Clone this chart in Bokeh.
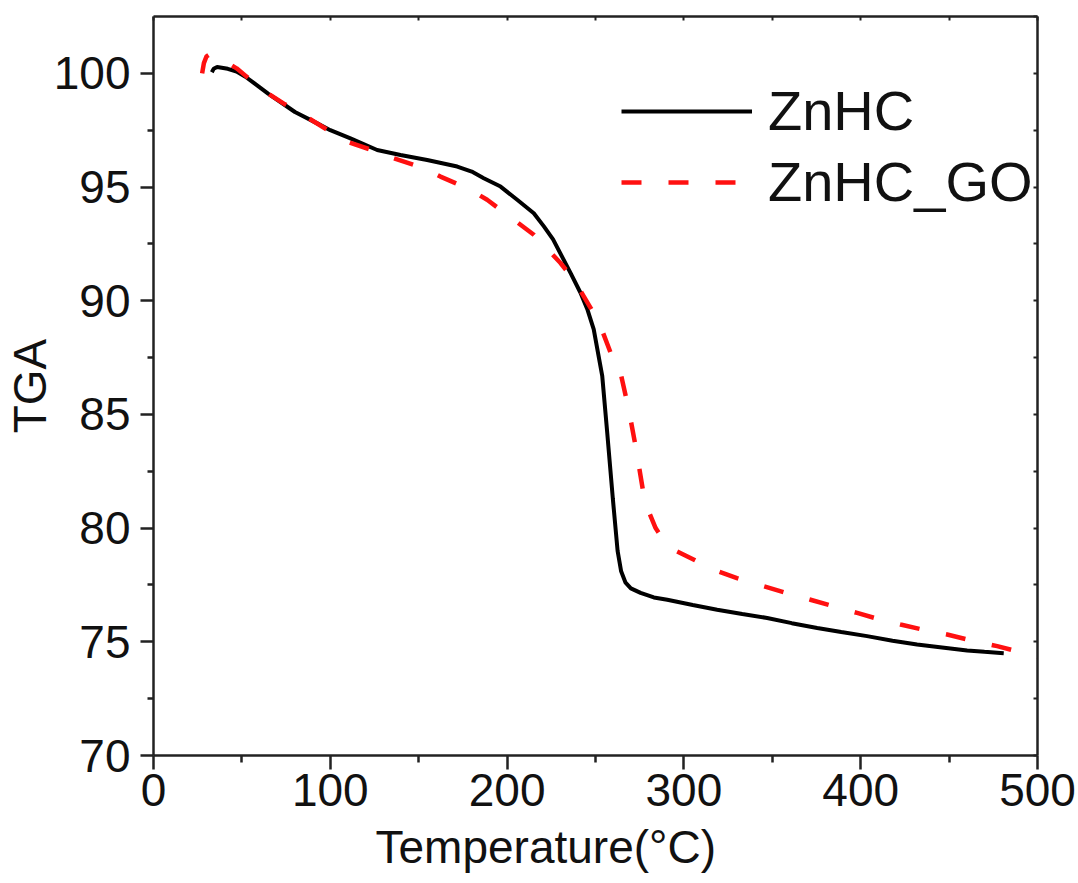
from bokeh.plotting import figure
from bokeh.models import (Range1d, LinearAxis, FixedTicker, CustomJSTickFormatter,
                          Legend, LegendItem, Title)
from bokeh.embed import file_html
from bokeh.resources import INLINE

# ---- data ----
znhc_t = [33, 34, 36, 42, 47, 52, 58.6, 65, 71.8, 80, 92.6, 100, 111.4, 126.5, 139.7,
          154.8, 171.8, 180, 186.8, 196.3, 205.7, 215.1, 220.8, 226, 231, 236, 241.5,
          245.5, 249.0, 253.8, 256.6, 259.8, 262.5, 264.5, 267, 270, 275.5, 283, 290.6,
          305, 318.8, 333, 347.1, 361, 375.4, 389, 403.6, 418, 431.9, 446, 460.2, 470,
          480.9]
znhc_y = [100.05, 100.2, 100.28, 100.2, 100.08, 99.85, 99.47, 99.1, 98.74, 98.3, 97.8,
          97.5, 97.14, 96.63, 96.41, 96.19, 95.9, 95.68, 95.39, 95.02, 94.44, 93.85,
          93.27, 92.7, 91.95, 91.2, 90.35, 89.6, 88.74, 86.7, 84.22, 81.3, 79.0, 78.1,
          77.6, 77.35, 77.15, 76.95, 76.85, 76.62, 76.41, 76.22, 76.05, 75.82, 75.61,
          75.43, 75.25, 75.05, 74.88, 74.75, 74.62, 74.56, 74.5]

go_t = [27.5, 28.5, 30, 32, 36, 41, 47, 52, 58.6, 66, 73.7, 85, 100.1, 109.5, 126.5,
        135.9, 152.9, 162.3, 179.3, 188.7, 205.7, 215.1, 230.2, 237.7, 247.2, 252.8,
        258.5, 264.1, 267.9, 269.8, 272.6, 274.5, 277.3, 280.2, 284, 288.7, 296.2, 306,
        316.9, 330, 345.2, 358, 371.6, 385, 398, 410, 422.5, 436, 448.9, 463, 477.2,
        490, 500]
go_y = [100.0, 100.45, 100.75, 100.85, 100.75, 100.5, 100.22, 99.9, 99.47, 99.05, 98.67,
        98.16, 97.43, 96.99, 96.55, 96.26, 95.83, 95.46, 94.88, 94.44, 93.45, 92.9, 91.66,
        90.93, 89.69, 88.89, 87.72, 86.85, 85.53, 84.8, 83.63, 82.76, 81.45, 80.71, 80.0,
        79.45, 78.97, 78.6, 78.17, 77.8, 77.44, 77.15, 76.85, 76.55, 76.27, 76.0, 75.76,
        75.52, 75.32, 75.05, 74.81, 74.55, 74.35]

x_major = [0, 100, 200, 300, 400, 500]
x_minor = [50, 150, 250, 350, 450]
y_major = [70, 75, 80, 85, 90, 95, 100]
y_minor = [72.5, 77.5, 82.5, 87.5, 92.5, 97.5]
top_ticks = [0, 50, 100, 150, 200, 250, 300, 350, 400, 450, 500]
right_ticks = [70, 72.5, 75, 77.5, 80, 82.5, 85, 87.5, 90, 92.5, 95, 97.5, 100, 102.5]

series_names = ["ZnHC", "ZnHC_GO"]
x_title = "Temperature(°C)"
y_title = "TGA"

FONT = "Liberation Sans"
AX = "#222222"

p = figure(width=1078, height=883, output_backend="svg", toolbar_location=None,
           x_range=Range1d(0, 500), y_range=Range1d(70, 102.5),
           x_axis_type=None, y_axis_type=None,
           min_border_left=153, min_border_right=41, min_border_top=16,
           min_border_bottom=125)
p.outline_line_color = None
p.xgrid.visible = False
p.ygrid.visible = False
p.background_fill_color = "white"
p.border_fill_color = "white"

# bottom axis
xa = LinearAxis(ticker=FixedTicker(ticks=x_major, minor_ticks=x_minor))
xa.axis_line_color = AX
xa.axis_line_width = 2.5
xa.major_tick_line_color = AX
xa.major_tick_line_width = 2.5
xa.minor_tick_line_color = AX
xa.minor_tick_line_width = 2.5
xa.major_tick_out = 14
xa.major_tick_in = 0
xa.minor_tick_out = 7
xa.minor_tick_in = 0
xa.major_label_standoff = 4
xa.major_label_text_font = FONT
xa.major_label_text_font_size = "46px"
xa.major_label_text_color = "#111111"
p.add_layout(xa, "below")

# x-axis title, placed left-of-centre as in the reference
xt = Title(text=x_title, align="left", offset=222, standoff=21)
xt.text_font = FONT
xt.text_font_size = "46px"
xt.text_font_style = "normal"
xt.text_color = "#111111"
p.add_layout(xt, "below")

# left axis
ya = LinearAxis(ticker=FixedTicker(ticks=y_major, minor_ticks=y_minor))
ya.axis_line_color = AX
ya.axis_line_width = 2.5
ya.major_tick_line_color = AX
ya.major_tick_line_width = 2.5
ya.minor_tick_line_color = AX
ya.minor_tick_line_width = 2.5
ya.major_tick_out = 13
ya.major_tick_in = 0
ya.minor_tick_out = 6
ya.minor_tick_in = 0
ya.major_label_standoff = 10
ya.major_label_text_font = FONT
ya.major_label_text_font_size = "46px"
ya.major_label_text_color = "#111111"
ya.axis_label = y_title
ya.axis_label_standoff = -5
ya.axis_label_text_font = FONT
ya.axis_label_text_font_size = "46px"
ya.axis_label_text_font_style = "normal"
ya.axis_label_text_color = "#111111"
p.add_layout(ya, "left")

blank = CustomJSTickFormatter(code="return ''")

ta = LinearAxis(ticker=FixedTicker(ticks=top_ticks, minor_ticks=[]), formatter=blank)
ta.axis_line_color = AX
ta.axis_line_width = 2.5
ta.major_tick_line_color = AX
ta.major_tick_line_width = 2
ta.major_tick_in = 4
ta.major_tick_out = 0
ta.major_label_standoff = 0
ta.major_label_text_font_size = "0px"
p.add_layout(ta, "above")

ra = LinearAxis(ticker=FixedTicker(ticks=right_ticks, minor_ticks=[]), formatter=blank)
ra.axis_line_color = AX
ra.axis_line_width = 2.5
ra.major_tick_line_color = AX
ra.major_tick_line_width = 2
ra.major_tick_in = 4
ra.major_tick_out = 0
ra.major_label_standoff = 0
ra.major_label_text_font_size = "0px"
p.add_layout(ra, "right")

r1 = p.line(znhc_t, znhc_y, line_color="black", line_width=4)
r2 = p.line(go_t, go_y, line_color="#ff1010", line_width=4.5, line_dash="20 27")

legend = Legend(items=[LegendItem(label=series_names[0], renderers=[r1]),
                       LegendItem(label=series_names[1], renderers=[r2])],
                location=(468, 541), orientation="vertical")
legend.background_fill_alpha = 0
legend.border_line_color = None
legend.padding = 0
legend.margin = 0
legend.spacing = 6
legend.glyph_width = 131
legend.glyph_height = 64
legend.label_standoff = 16
legend.label_text_font = FONT
legend.label_text_font_size = "56px"
legend.label_text_color = "#111111"
legend.label_height = 64
p.add_layout(legend)

open("out.html", "w").write(file_html(p, INLINE))
